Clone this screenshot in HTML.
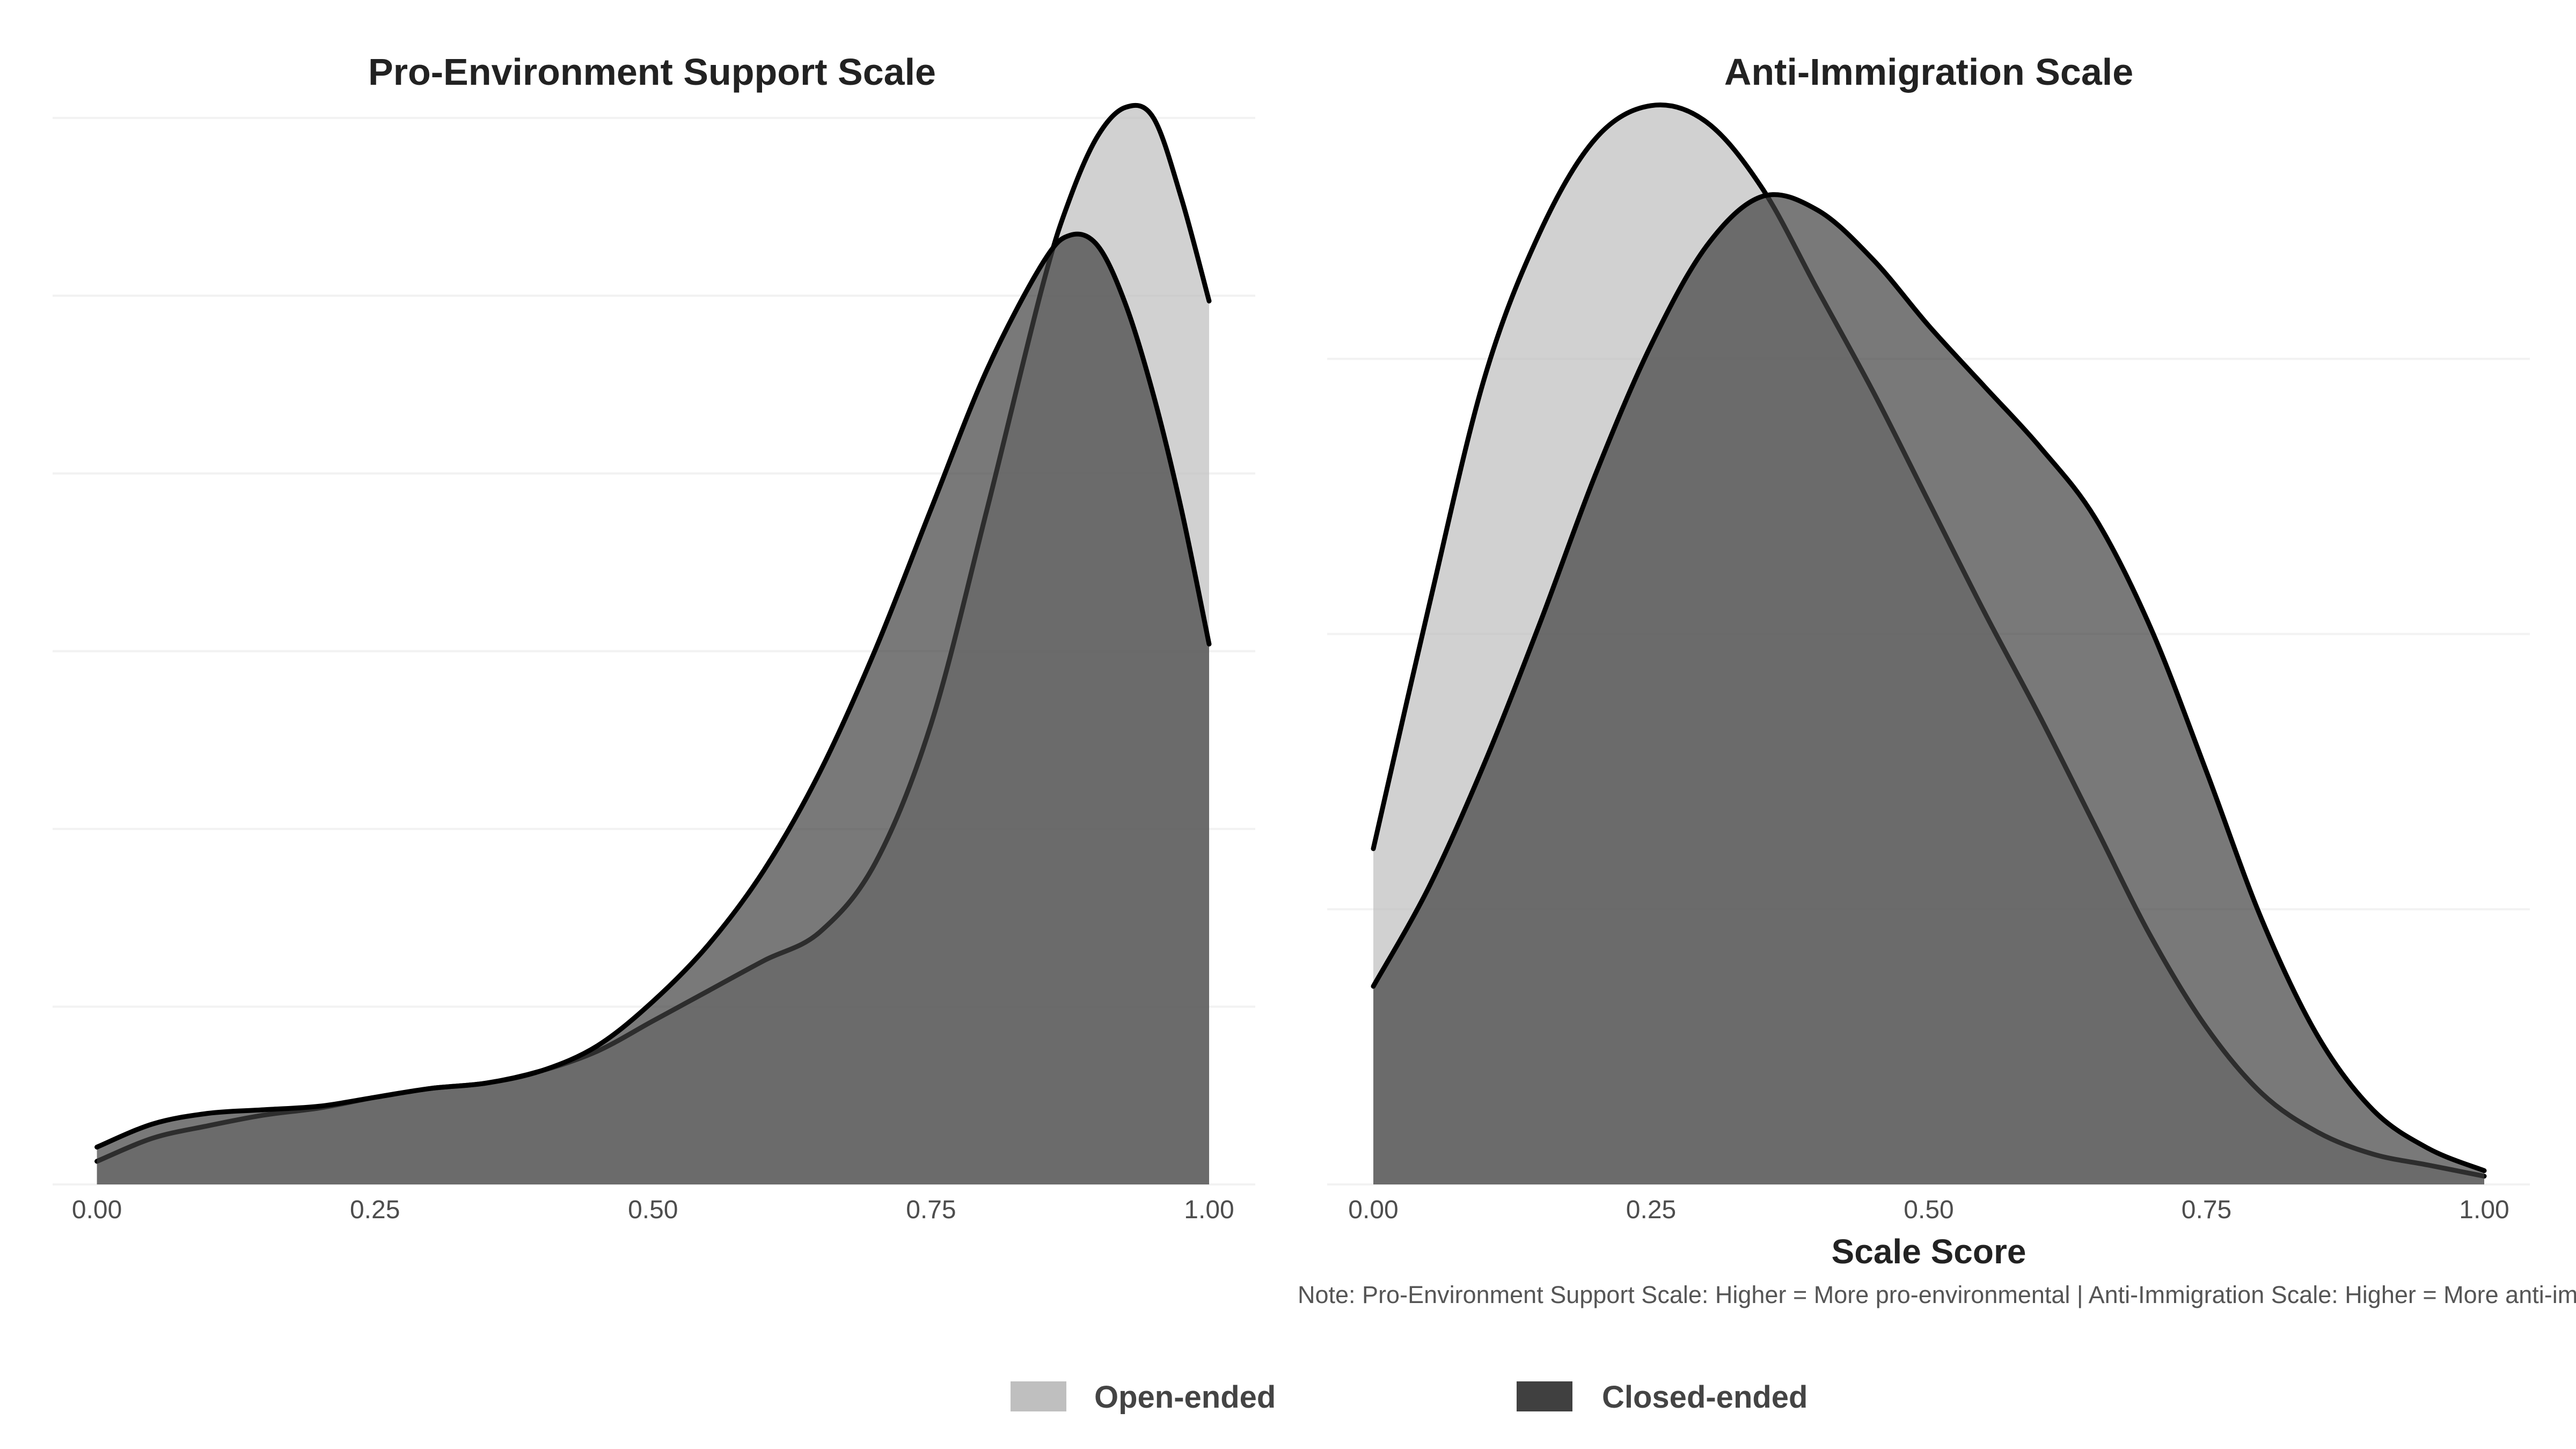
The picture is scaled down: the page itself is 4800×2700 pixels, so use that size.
<!DOCTYPE html>
<html><head><meta charset="utf-8"><style>
html,body{margin:0;padding:0;background:#fff;}
svg{display:block;font-family:"Liberation Sans",sans-serif;}
</style></head><body>
<svg id="chart" width="4800" height="2700" viewBox="0 0 4800 2700" xmlns="http://www.w3.org/2000/svg">
<rect width="4800" height="2700" fill="#fff"/>
<g id="left"></g>
<g id="right"></g>
<text x="1215" y="158" text-anchor="middle" font-size="70" font-weight="bold" fill="#222">Pro-Environment Support Scale</text>
<text x="3594" y="158" text-anchor="middle" font-size="70" font-weight="bold" fill="#222">Anti-Immigration Scale</text>
<text x="3594" y="2354" text-anchor="middle" font-size="64" font-weight="bold" fill="#222">Scale Score</text>
<text x="2418" y="2428" font-size="45" fill="#555">Note: Pro-Environment Support Scale: Higher = More pro-environmental | Anti-Immigration Scale: Higher = More anti-immigration</text>
<g>
<rect x="1883" y="2574" width="104" height="56" fill="#bfbfbf"/>
<text x="2039" y="2623" font-size="58" font-weight="bold" fill="#444">Open-ended</text>
<rect x="2826" y="2574" width="104" height="56" fill="#404040"/>
<text x="2985" y="2623" font-size="58" font-weight="bold" fill="#444">Closed-ended</text>
</g>
</svg>
<script>
const envX = [0,.05,.1,.15,.2,.25,.3,.35,.4,.45,.5,.55,.6,.65,.7,.75,.8,.85,.875,.9,.925,.95,.975,1];
const envOpen = [.13,.26,.33,.39,.43,.49,.54,.57,.64,.75,.92,1.09,1.26,1.42,1.81,2.59,3.79,5.05,5.55,5.90,6.06,6.00,5.55,4.97];
const envClosed = [.21,.34,.40,.42,.44,.49,.54,.57,.64,.78,1.03,1.35,1.77,2.32,3.01,3.80,4.58,5.18,5.34,5.28,4.95,4.44,3.80,3.04];
const immX = [0,.05,.1,.15,.2,.25,.3,.35,.4,.45,.5,.55,.6,.65,.7,.75,.8,.85,.9,.95,1];
const immOpen = [1.22,2.10,2.93,3.46,3.80,3.92,3.86,3.62,3.25,2.88,2.48,2.08,1.70,1.30,0.90,0.57,0.33,0.19,0.11,0.07,0.03];
const immClosed = [0.72,1.08,1.53,2.04,2.58,3.05,3.41,3.59,3.54,3.36,3.12,2.90,2.68,2.42,2.02,1.50,0.96,0.54,0.27,0.13,0.05];
const tickLabels = ["0.00","0.25","0.50","0.75","1.00"];
const tickVals = [0,.25,.5,.75,1];
const NS="http://www.w3.org/2000/svg";
function mk(tag,attrs,parent){const e=document.createElementNS(NS,tag);for(const k in attrs)e.setAttribute(k,attrs[k]);parent.appendChild(e);return e;}
function smooth(pts){let d="M"+pts[0][0]+","+pts[0][1];for(let i=0;i<pts.length-1;i++){const p0=pts[Math.max(0,i-1)],p1=pts[i],p2=pts[i+1],p3=pts[Math.min(pts.length-1,i+2)];const c1=[p1[0]+(p2[0]-p0[0])/6,p1[1]+(p2[1]-p0[1])/6];const c2=[p2[0]-(p3[0]-p1[0])/6,p2[1]-(p3[1]-p1[1])/6];d+=" C"+c1+" "+c2+" "+p2;}return d;}
function panel(g,x0,x1,base,gstep,ngrid,gx0,gx1,xs,open,closed,pfx){
  const sx=v=>x0+(x1-x0)*v, sy=v=>base-gstep*v;
  for(let i=0;i<ngrid;i++){const l=mk('line',{x1:gx0,x2:gx1,y1:sy(i),y2:sy(i),stroke:'#f2f2f2','stroke-width':4},g);
    
    }
  [[open,'rgba(190,190,190,0.7)','open-ended'],[closed,'rgba(64,64,64,0.7)','closed-ended']].forEach(([ser,fill,nm])=>{
    const pts=xs.map((x,i)=>[sx(x),sy(ser[i])]);
    const line=smooth(pts);
    const a=mk('path',{d:line+" L"+sx(1)+","+base+" L"+sx(0)+","+base+" Z",fill:fill},g);
    
    
    const l=mk('path',{d:line,fill:'none',stroke:'#000','stroke-width':9,'stroke-linecap':'round'},g);
    
    
  });
  tickVals.forEach((v,i)=>{const t=mk('text',{x:sx(v),y:base+63,'text-anchor':'middle','font-size':48,fill:'#4d4d4d'},g);t.textContent=tickLabels[i];
    
    });
}
panel(document.getElementById('left'),180.6,2253,2207,331.2,7,98,2339,envX,envOpen,envClosed,'env');
panel(document.getElementById('right'),2559,4629,2207,512.8,4,2473,4714,immX,immOpen,immClosed,'imm');
</script>
</body></html>
